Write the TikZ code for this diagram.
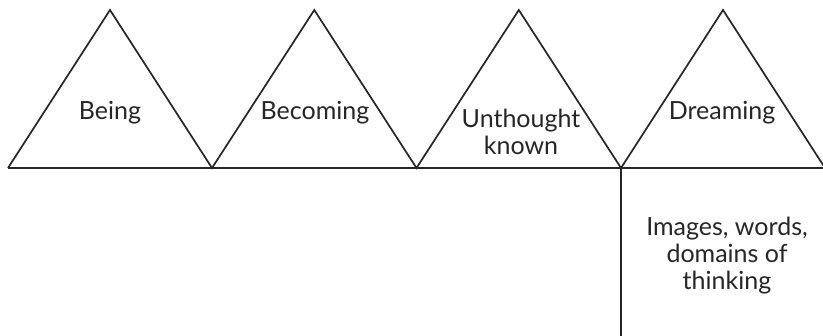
\documentclass[tikz,border=0pt]{standalone}
\usepackage{fontspec}
\setmainfont{Lato}
\begin{document}
\begin{tikzpicture}[x=1pt,y=-1pt,
  edge/.style={line width=1.7pt, color=black!85},
  lbl/.style={font=\fontsize{25}{27}\selectfont, inner sep=0pt, align=center, text=black!85}]
\useasboundingbox[fill=white] (0,0) rectangle (823,336);
% base points
\coordinate (b0) at (8,168);
\coordinate (b1) at (212,168);
\coordinate (b2) at (416.5,168);
\coordinate (b3) at (621,168);
\coordinate (b4) at (825,168);
\coordinate (a1) at (110,10);
\coordinate (a2) at (314.3,10);
\coordinate (a3) at (518.8,10);
\coordinate (a4) at (723,10);
\coordinate (bottom) at (621,336);
\coordinate (rend) at (823,168);
\draw[edge] (b0) -- (rend);
\draw[edge,line join=miter] (b0) -- (a1) -- (b1) -- (a2) -- (b2) -- (a3) -- (b3) -- (a4) -- (b4);
\draw[edge] (b3) -- (bottom);
\node[lbl, anchor=base] (being) at (110,120) {Being};
\node[lbl, anchor=base] (becoming) at (315,120) {Becoming};
\node[lbl] (unthought) at (521,132) {Unthought\\known};
\node[lbl, anchor=base] (dreaming) at (722,120) {Dreaming};
\node[lbl] (images) at (727,256) {Images, words,\\domains of\\thinking};
\end{tikzpicture}
\end{document}
